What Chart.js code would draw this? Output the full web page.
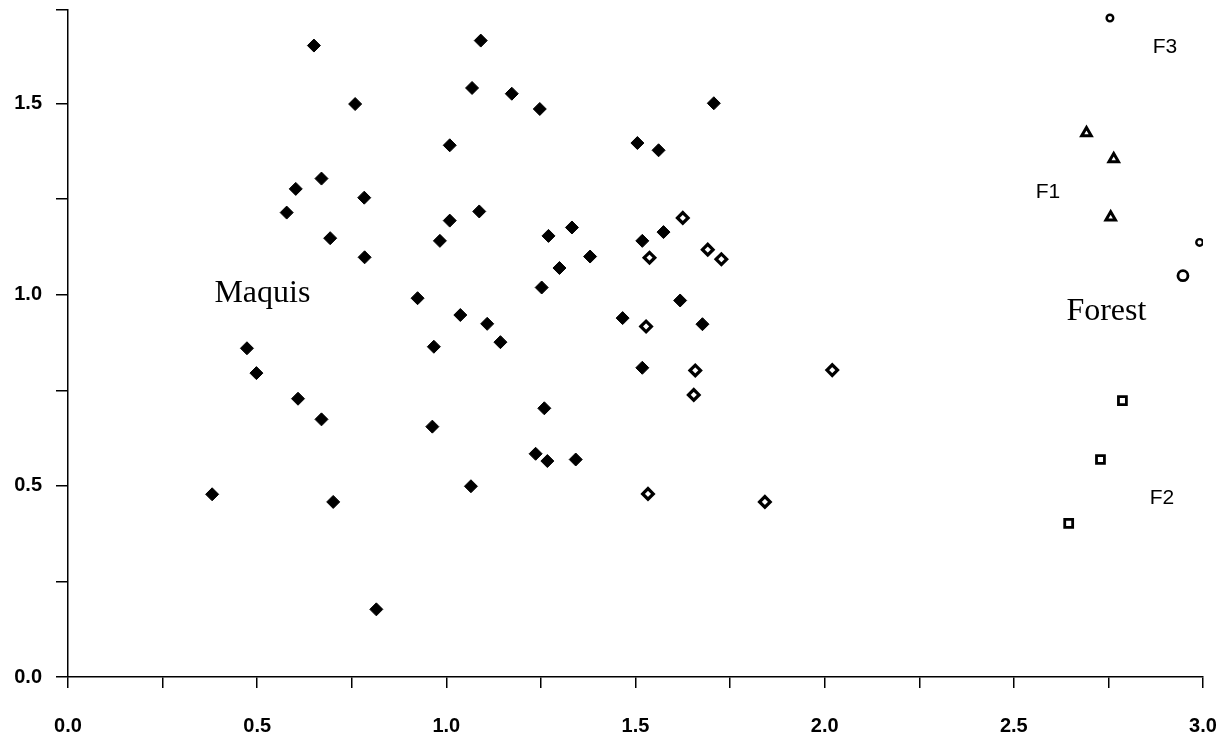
<!DOCTYPE html>
<html>
<head>
<meta charset="utf-8">
<script src="https://cdn.jsdelivr.net/npm/chart.js@4.4.1/dist/chart.umd.min.js"></script>
<style>
  html, body { margin: 0; padding: 0; background: #fff; }
  #wrap { width: 1232px; height: 738px; }
</style>
</head>
<body>
<div id="wrap"><canvas id="ord" width="1232" height="738"></canvas></div>
<script>
// Ordination scores: [axis 1, axis 2]
const maquisFilled = [
  [0.650,1.652],[1.091,1.665],[0.759,1.499],[1.068,1.541],[1.173,1.526],[1.247,1.486],
  [1.707,1.501],[1.009,1.391],[1.505,1.397],[1.561,1.378],[0.670,1.304],[0.602,1.277],
  [0.783,1.254],[0.578,1.215],[1.087,1.218],[1.009,1.194],[0.693,1.148],[0.983,1.141],
  [1.332,1.176],[1.270,1.154],[1.518,1.141],[1.574,1.164],[0.784,1.098],[1.380,1.100],
  [1.299,1.070],[1.252,1.019],[0.924,0.991],[1.618,0.985],[1.037,0.947],[1.108,0.924],
  [1.143,0.876],[1.466,0.939],[1.677,0.923],[0.967,0.864],[0.473,0.860],[0.498,0.795],
  [1.518,0.809],[0.608,0.728],[0.670,0.674],[1.259,0.703],[0.963,0.655],[1.236,0.584],
  [1.267,0.565],[1.342,0.569],[0.381,0.478],[0.701,0.458],[1.065,0.499],[0.815,0.177]
];
const maquisOpen = [
  [1.625,1.201],[1.537,1.097],[1.691,1.118],[1.727,1.093],[1.528,0.917],
  [1.658,0.802],[1.654,0.738],[1.533,0.479],[2.020,0.803],[1.842,0.458]
];
const forestF1 = [[2.692,1.423],[2.764,1.355],[2.756,1.203]];
const forestF2 = [[2.787,0.723],[2.729,0.569],[2.645,0.402]];
const forestF3 = [[2.754,1.724],[2.991,1.137]];
const forestMean = [[2.947,1.050]];

const xTicks = [0, 0.5, 1.0, 1.5, 2.0, 2.5, 3.0];
const yTicks = [0, 0.5, 1.0, 1.5];
const X_MIN = 0, X_MAX = 3.0, Y_MIN = 0, Y_MAX = 1.745;

// group labels, in data coordinates (left edge, baseline)
const groupLabels = [
  { text: 'Maquis', x: 0.387, y: 0.981, font: '32px "Liberation Serif", "Times New Roman", serif' },
  { text: 'Forest', x: 2.639, y: 0.934, font: '32px "Liberation Serif", "Times New Roman", serif' },
  { text: 'F1', x: 2.558, y: 1.253, font: '21px "Liberation Sans", Arial, sans-serif' },
  { text: 'F2', x: 2.859, y: 0.452, font: '21px "Liberation Sans", Arial, sans-serif' },
  { text: 'F3', x: 2.867, y: 1.633, font: '21px "Liberation Sans", Arial, sans-serif' }
];

const pts = arr => arr.map(p => ({ x: p[0], y: p[1] }));
const isLabelTick = (v, list) => list.some(t => Math.abs(t - v) < 1e-6);

const labelPlugin = {
  id: 'groupLabels',
  afterDatasetsDraw(chart) {
    const { ctx, scales } = chart;
    ctx.save();
    ctx.fillStyle = '#000';
    ctx.textAlign = 'left';
    ctx.textBaseline = 'alphabetic';
    groupLabels.forEach(l => {
      ctx.font = l.font;
      ctx.fillText(l.text, scales.x.getPixelForValue(l.x), scales.y.getPixelForValue(l.y));
    });
    ctx.restore();
  }
};

const axisFont = { family: '"Liberation Sans", Arial, sans-serif', size: 20, weight: 'bold' };

new Chart(document.getElementById('ord'), {
  type: 'scatter',
  data: {
    datasets: [
      { label: 'Maquis', data: pts(maquisFilled), pointStyle: 'rectRot', radius: 6.5,
        backgroundColor: '#000', borderColor: '#000', borderWidth: 1 },
      { label: 'Maquis (open)', data: pts(maquisOpen), pointStyle: 'rectRot', radius: 5.3,
        backgroundColor: '#fff', borderColor: '#000', borderWidth: 3.2 },
      { label: 'F1', data: pts(forestF1), pointStyle: 'triangle', radius: 5.5,
        backgroundColor: '#fff', borderColor: '#000', borderWidth: 3 },
      { label: 'F2', data: pts(forestF2), pointStyle: 'rect', radius: 5.6,
        backgroundColor: '#fff', borderColor: '#000', borderWidth: 2.8 },
      { label: 'F3', data: pts(forestF3), pointStyle: 'circle', radius: 3.3,
        backgroundColor: '#fff', borderColor: '#000', borderWidth: 2.4 },
      { label: 'Forest', data: pts(forestMean), pointStyle: 'circle', radius: 5,
        backgroundColor: '#fff', borderColor: '#000', borderWidth: 2.8 }
    ]
  },
  options: {
    responsive: false,
    animation: false,
    events: [],
    layout: { padding: { top: 10, right: 29, left: 0, bottom: 0 } },
    plugins: { legend: { display: false }, tooltip: { enabled: false } },
    scales: {
      x: {
        type: 'linear', min: X_MIN, max: X_MAX,
        afterFit: s => { s.height = 61; s.paddingLeft = 0; s.paddingRight = 0; },
        border: { display: true, color: '#000', width: 1.5 },
        grid: { drawOnChartArea: false, drawTicks: true, tickLength: 11, color: '#000', lineWidth: 1.5 },
        ticks: {
          stepSize: 0.25, autoSkip: false, maxRotation: 0, color: '#000', font: axisFont, padding: 26,
          callback: v => isLabelTick(v, xTicks) ? v.toFixed(1) : ''
        }
      },
      y: {
        type: 'linear', min: Y_MIN, max: Y_MAX,
        afterFit: s => { s.width = 68; s.paddingTop = 0; s.paddingBottom = 0; },
        border: { display: true, color: '#000', width: 1.5 },
        grid: { drawOnChartArea: false, drawTicks: true, tickLength: 12, color: '#000', lineWidth: 1.5 },
        ticks: {
          stepSize: 0.25, autoSkip: false, color: '#000', font: axisFont, padding: 14,
          callback: v => isLabelTick(v, yTicks) ? v.toFixed(1) : ''
        }
      }
    }
  },
  plugins: [labelPlugin]
});
</script>
</body>
</html>
